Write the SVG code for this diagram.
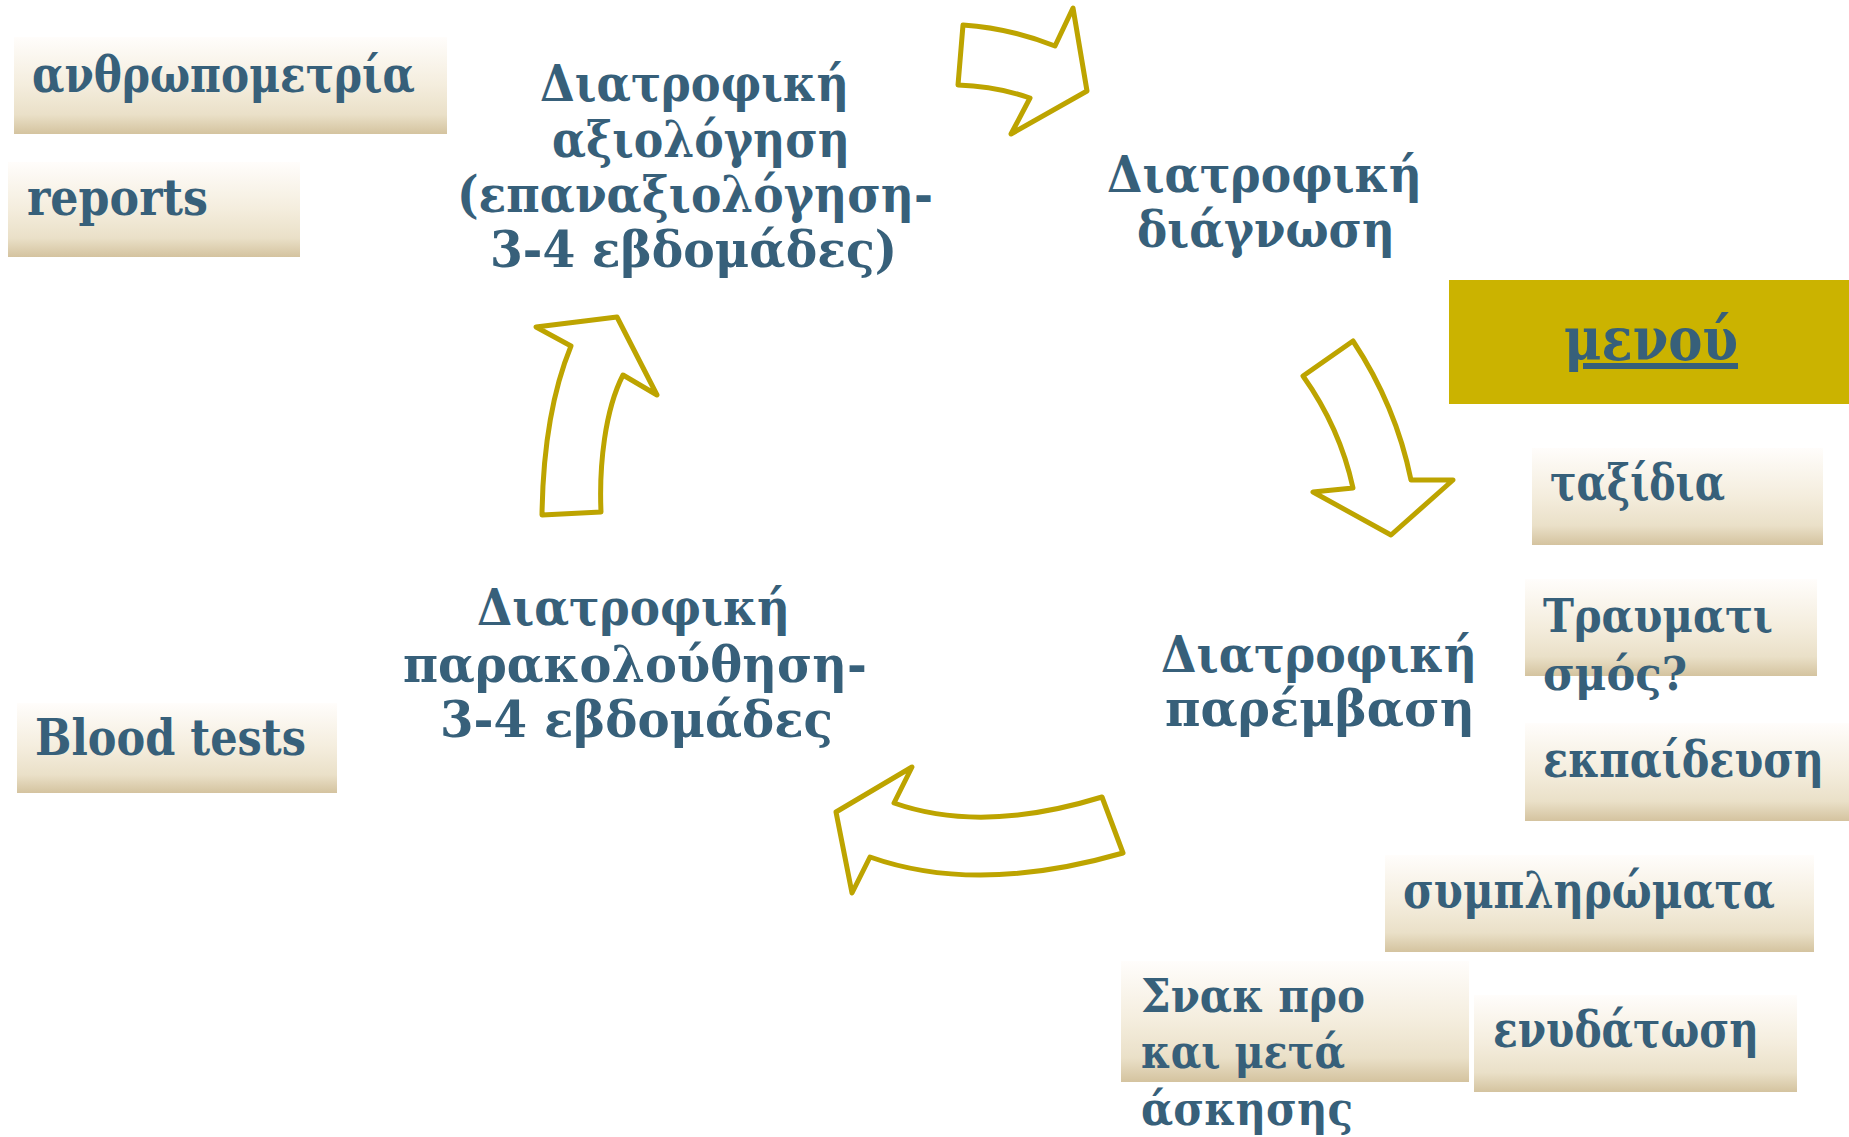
<svg xmlns="http://www.w3.org/2000/svg" width="1849" height="1137" viewBox="0 0 1849 1137">
<style>
.t{font-family:"DejaVu Serif","Liberation Serif",serif;font-weight:bold;fill:#37607A;font-size:50px}
.s{font-size:46px}
.m{font-size:60px;text-decoration:underline}
.box{fill:url(#g)}
.arr{fill:#ffffff;stroke:#BDA400;stroke-width:5;stroke-linejoin:round}
</style>
<defs>
<linearGradient id="g" x1="0" y1="0" x2="0" y2="1">
<stop offset="0" stop-color="#FFFDFB"/>
<stop offset="0.5" stop-color="#F4EDDD"/>
<stop offset="0.8" stop-color="#EAE0C8"/>
<stop offset="1" stop-color="#D4C39F"/>
</linearGradient>
</defs>
<rect width="1849" height="1137" fill="#ffffff"/>

<g id="connectors">
<path class="arr" d="M963,25 Q1009,28 1055,46 L1073,8 L1087,91 L1011,134 L1030,98 Q995,86 958,85 Z"/>
<path class="arr" d="M1303,376 L1353,341 Q1396,406 1411,480 L1453,480 L1391,535 L1313,492 L1353,488 Q1340,428 1303,376 Z"/>
<path class="arr" d="M1102,797 L1123,853 Q977,895 870,857 L852,893 L836,812 L912,767 L894,803 Q982,834 1102,797 Z"/>
<path class="arr" d="M542,515 L601,512 C599,465 605,410 623,375 L657,395 L617,317 L536,327 L571,346 C555,385 543,440 542,515 Z"/>
</g>

<g id="node-assessment">
<text class="t" x="540" y="101" textLength="309" lengthAdjust="spacingAndGlyphs">Διατροφική</text>
<text class="t" x="552" y="157" textLength="298" lengthAdjust="spacingAndGlyphs">αξιολόγηση</text>
<text class="t" x="457" y="212" textLength="476" lengthAdjust="spacingAndGlyphs">(επαναξιολόγηση-</text>
<text class="t" x="490" y="267" textLength="407" lengthAdjust="spacingAndGlyphs">3-4 εβδομάδες)</text>
</g>

<g id="node-diagnosis">
<text class="t" x="1107" y="192" textLength="315" lengthAdjust="spacingAndGlyphs">Διατροφική</text>
<text class="t" x="1137" y="247" textLength="258" lengthAdjust="spacingAndGlyphs">διάγνωση</text>
</g>

<g id="node-intervention">
<text class="t" x="1161" y="672" textLength="316" lengthAdjust="spacingAndGlyphs">Διατροφική</text>
<text class="t" x="1165" y="726" textLength="310" lengthAdjust="spacingAndGlyphs">παρέμβαση</text>
</g>

<g id="node-monitoring">
<text class="t" x="477" y="625" textLength="313" lengthAdjust="spacingAndGlyphs">Διατροφική</text>
<text class="t" x="403" y="682" textLength="464" lengthAdjust="spacingAndGlyphs">παρακολούθηση-</text>
<text class="t" x="440" y="737" textLength="393" lengthAdjust="spacingAndGlyphs">3-4 εβδομάδες</text>
</g>

<g id="node-anthropometry">
<rect class="box" x="14" y="37" width="433" height="97"/>
<text class="t" x="32" y="92" textLength="383" lengthAdjust="spacingAndGlyphs">ανθρωπομετρία</text>
</g>

<g id="node-reports">
<rect class="box" x="8" y="162" width="292" height="95"/>
<text class="t" x="27" y="215" textLength="181" lengthAdjust="spacingAndGlyphs">reports</text>
</g>

<g id="node-blood">
<rect class="box" x="17" y="703" width="320" height="90"/>
<text class="t" x="35" y="755" textLength="271" lengthAdjust="spacingAndGlyphs">Blood tests</text>
</g>

<g id="node-menu">
<rect x="1449" y="280" width="400" height="124" fill="#CBB300"/>
<text class="t m" x="1564" y="360" textLength="174" lengthAdjust="spacingAndGlyphs">μενού</text>
</g>

<g id="node-travel">
<rect class="box" x="1532" y="448" width="291" height="97"/>
<text class="t" x="1550" y="500" textLength="175" lengthAdjust="spacingAndGlyphs">ταξίδια</text>
</g>

<g id="node-injury">
<rect class="box" x="1525" y="579" width="292" height="97"/>
<text class="t s" x="1543" y="632" textLength="230" lengthAdjust="spacingAndGlyphs">Τραυματι</text>
<text class="t s" x="1543" y="690" textLength="144" lengthAdjust="spacingAndGlyphs">σμός?</text>
</g>

<g id="node-education">
<rect class="box" x="1525" y="723" width="324" height="98"/>
<text class="t" x="1543" y="777" textLength="281" lengthAdjust="spacingAndGlyphs">εκπαίδευση</text>
</g>

<g id="node-supplements">
<rect class="box" x="1385" y="855" width="429" height="97"/>
<text class="t" x="1403" y="908" textLength="372" lengthAdjust="spacingAndGlyphs">συμπληρώματα</text>
</g>

<g id="node-snack">
<rect class="box" x="1121" y="961" width="348" height="121"/>
<text class="t s" x="1141" y="1012" textLength="224" lengthAdjust="spacingAndGlyphs">Σνακ προ</text>
<text class="t s" x="1141" y="1068" textLength="204" lengthAdjust="spacingAndGlyphs">και μετά</text>
<text class="t s" x="1141" y="1125" textLength="212" lengthAdjust="spacingAndGlyphs">άσκησης</text>
</g>

<g id="node-hydration">
<rect class="box" x="1474" y="995" width="323" height="97"/>
<text class="t" x="1493" y="1047" textLength="266" lengthAdjust="spacingAndGlyphs">ενυδάτωση</text>
</g>
</svg>
